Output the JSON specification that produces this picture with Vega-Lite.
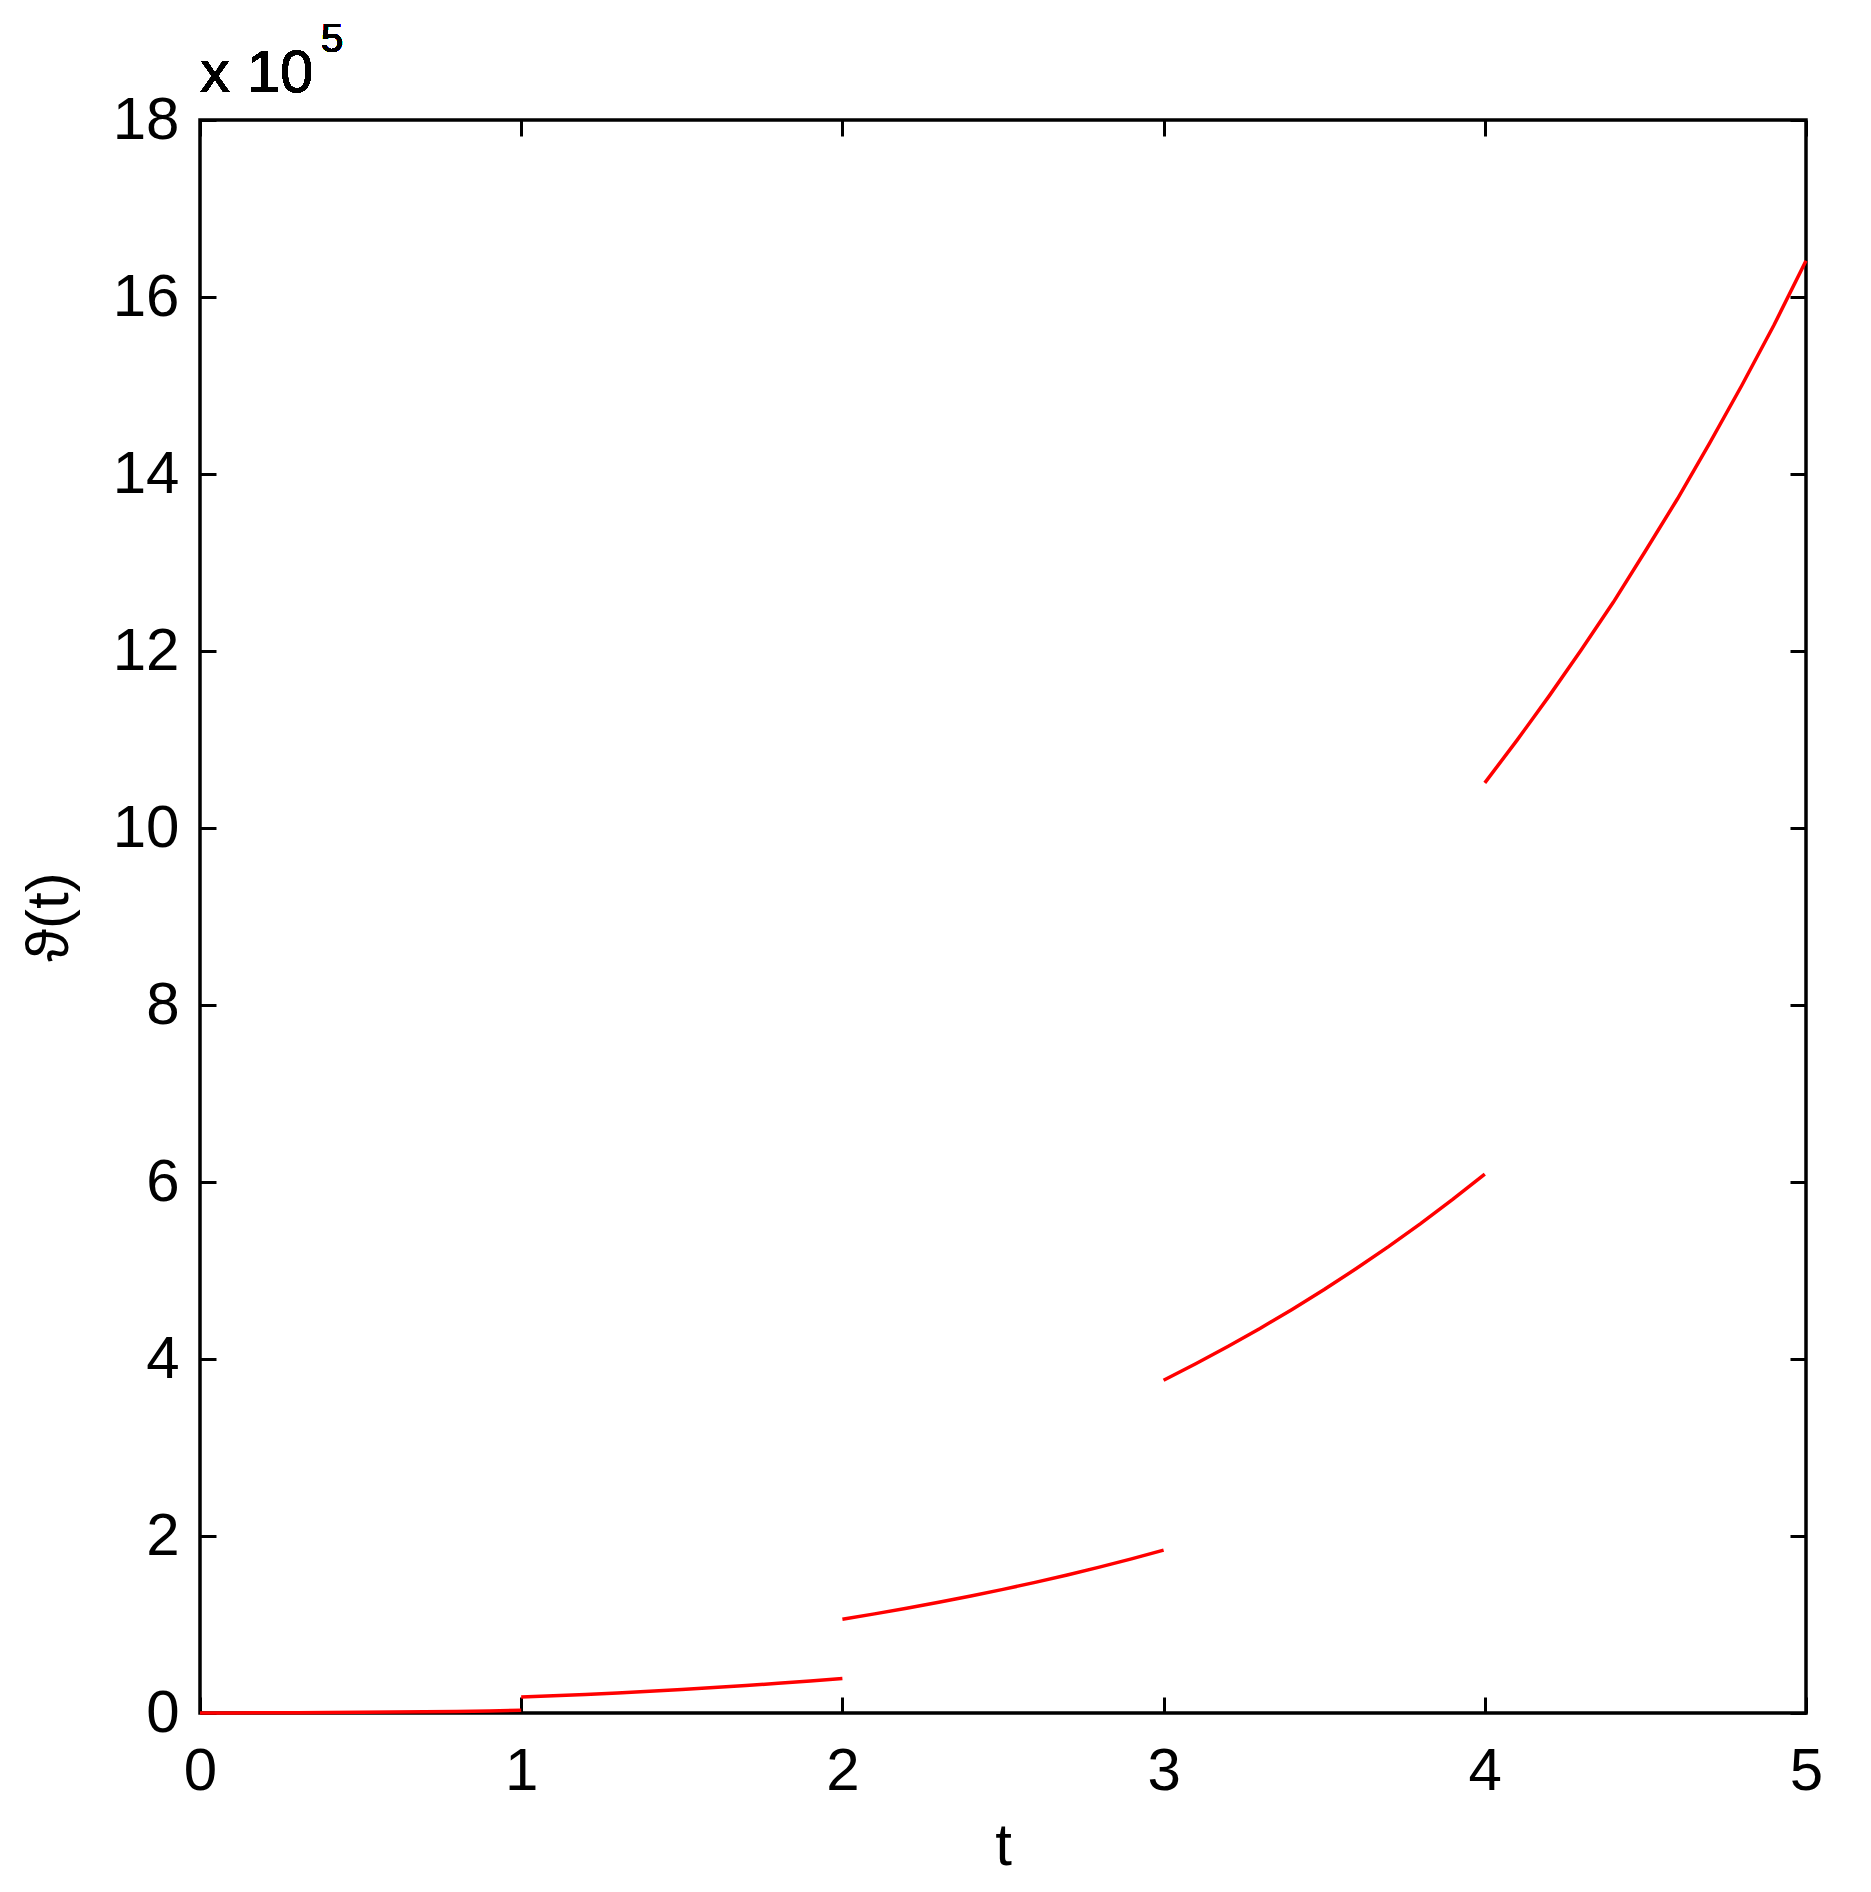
{
  "$schema": "https://vega.github.io/schema/vega-lite/v6.json",
  "autosize": {"type": "none"},
  "padding": {"left": 200, "top": 120, "right": 65, "bottom": 179},
  "width": 1606,
  "height": 1593,
  "background": "white",
  "config": {
    "view": {"stroke": "black", "strokeWidth": 3.5},
    "axis": {
      "grid": false,
      "domain": false,
      "tickColor": "black",
      "tickWidth": 3,
      "tickSize": -16,
      "labelFont": "Liberation Sans",
      "labelFontSize": 60,
      "labelColor": "black",
      "labelFlush": false,
      "labelOverlap": false,
      "labelBound": false,
      "titleFont": "Liberation Sans",
      "titleFontSize": 60,
      "titleFontWeight": "normal",
      "titleColor": "black"
    },
    "text": {"font": "Liberation Sans", "color": "black"}
  },
  "data": {
    "values": [
      {"seg": 0, "t": 0.0, "v": 0},
      {"seg": 0, "t": 0.1, "v": 100},
      {"seg": 0, "t": 0.2, "v": 250},
      {"seg": 0, "t": 0.3, "v": 400},
      {"seg": 0, "t": 0.4, "v": 600},
      {"seg": 0, "t": 0.5, "v": 800},
      {"seg": 0, "t": 0.6, "v": 1100},
      {"seg": 0, "t": 0.7, "v": 1400},
      {"seg": 0, "t": 0.8, "v": 1800},
      {"seg": 0, "t": 0.9, "v": 2300},
      {"seg": 0, "t": 1.0, "v": 3000},
      {"seg": 1, "t": 1.0, "v": 18000},
      {"seg": 1, "t": 1.1, "v": 19500},
      {"seg": 1, "t": 1.2, "v": 21000},
      {"seg": 1, "t": 1.3, "v": 22700},
      {"seg": 1, "t": 1.4, "v": 24500},
      {"seg": 1, "t": 1.5, "v": 26500},
      {"seg": 1, "t": 1.6, "v": 28700},
      {"seg": 1, "t": 1.7, "v": 31000},
      {"seg": 1, "t": 1.8, "v": 33500},
      {"seg": 1, "t": 1.9, "v": 36100},
      {"seg": 1, "t": 2.0, "v": 39000},
      {"seg": 2, "t": 2.0, "v": 106000},
      {"seg": 2, "t": 2.1, "v": 112000},
      {"seg": 2, "t": 2.2, "v": 118400},
      {"seg": 2, "t": 2.3, "v": 125100},
      {"seg": 2, "t": 2.4, "v": 132200},
      {"seg": 2, "t": 2.5, "v": 139700},
      {"seg": 2, "t": 2.6, "v": 147600},
      {"seg": 2, "t": 2.7, "v": 156000},
      {"seg": 2, "t": 2.8, "v": 164800},
      {"seg": 2, "t": 2.9, "v": 174200},
      {"seg": 2, "t": 3.0, "v": 184000},
      {"seg": 3, "t": 3.0, "v": 376000},
      {"seg": 3, "t": 3.1, "v": 394600},
      {"seg": 3, "t": 3.2, "v": 414100},
      {"seg": 3, "t": 3.3, "v": 434500},
      {"seg": 3, "t": 3.4, "v": 456000},
      {"seg": 3, "t": 3.5, "v": 478500},
      {"seg": 3, "t": 3.6, "v": 502200},
      {"seg": 3, "t": 3.7, "v": 527000},
      {"seg": 3, "t": 3.8, "v": 553000},
      {"seg": 3, "t": 3.9, "v": 580300},
      {"seg": 3, "t": 4.0, "v": 609000},
      {"seg": 4, "t": 4.0, "v": 1051000},
      {"seg": 4, "t": 4.1, "v": 1099000},
      {"seg": 4, "t": 4.2, "v": 1149000},
      {"seg": 4, "t": 4.3, "v": 1201000},
      {"seg": 4, "t": 4.4, "v": 1255000},
      {"seg": 4, "t": 4.5, "v": 1313000},
      {"seg": 4, "t": 4.6, "v": 1372000},
      {"seg": 4, "t": 4.7, "v": 1435000},
      {"seg": 4, "t": 4.8, "v": 1500000},
      {"seg": 4, "t": 4.9, "v": 1568000},
      {"seg": 4, "t": 5.0, "v": 1641000}
    ]
  },
  "layer": [
    {
      "mark": {"type": "line", "color": "#ff0000", "strokeWidth": 3.5},
      "encoding": {
        "x": {
          "field": "t", "type": "quantitative",
          "scale": {"domain": [0, 5], "nice": false},
          "axis": {"orient": "bottom", "values": [0, 1, 2, 3, 4, 5], "title": "t", "labelPadding": 45, "titlePadding": 16}
        },
        "y": {
          "field": "v", "type": "quantitative",
          "scale": {"domain": [0, 1800000], "nice": false},
          "axis": {"orient": "left", "values": [0, 200000, 400000, 600000, 800000, 1000000, 1200000, 1400000, 1600000, 1800000], "labelExpr": "format(datum.value / 100000, 'd')", "title": "ϑ(t)", "labelPadding": 37, "titlePadding": 32}
        },
        "detail": {"field": "seg", "type": "nominal"}
      }
    },
    {
      "mark": {"type": "line", "opacity": 0},
      "encoding": {
        "x": {
          "field": "t", "type": "quantitative",
          "scale": {"domain": [0, 5], "nice": false},
          "axis": {"orient": "top", "values": [0, 1, 2, 3, 4, 5], "labels": false, "title": null}
        },
        "y": {
          "field": "v", "type": "quantitative",
          "scale": {"domain": [0, 1800000], "nice": false},
          "axis": {"orient": "right", "values": [0, 200000, 400000, 600000, 800000, 1000000, 1200000, 1400000, 1600000, 1800000], "labels": false, "title": null}
        },
        "detail": {"field": "seg", "type": "nominal"}
      }
    },
    {
      "mark": {"type": "text", "text": "x 10", "fontSize": 60, "align": "left", "baseline": "alphabetic", "dx": 0, "dy": -28},
      "encoding": {
        "x": {"datum": 0, "type": "quantitative", "axis": null},
        "y": {"datum": 1800000, "type": "quantitative", "axis": null}
      }
    },
    {
      "mark": {"type": "text", "text": "5", "fontSize": 40, "align": "left", "baseline": "alphabetic", "dx": 121, "dy": -68},
      "encoding": {
        "x": {"datum": 0, "type": "quantitative", "axis": null},
        "y": {"datum": 1800000, "type": "quantitative", "axis": null}
      }
    }
  ],
  "resolve": {"axis": {"x": "independent", "y": "independent"}}
}
